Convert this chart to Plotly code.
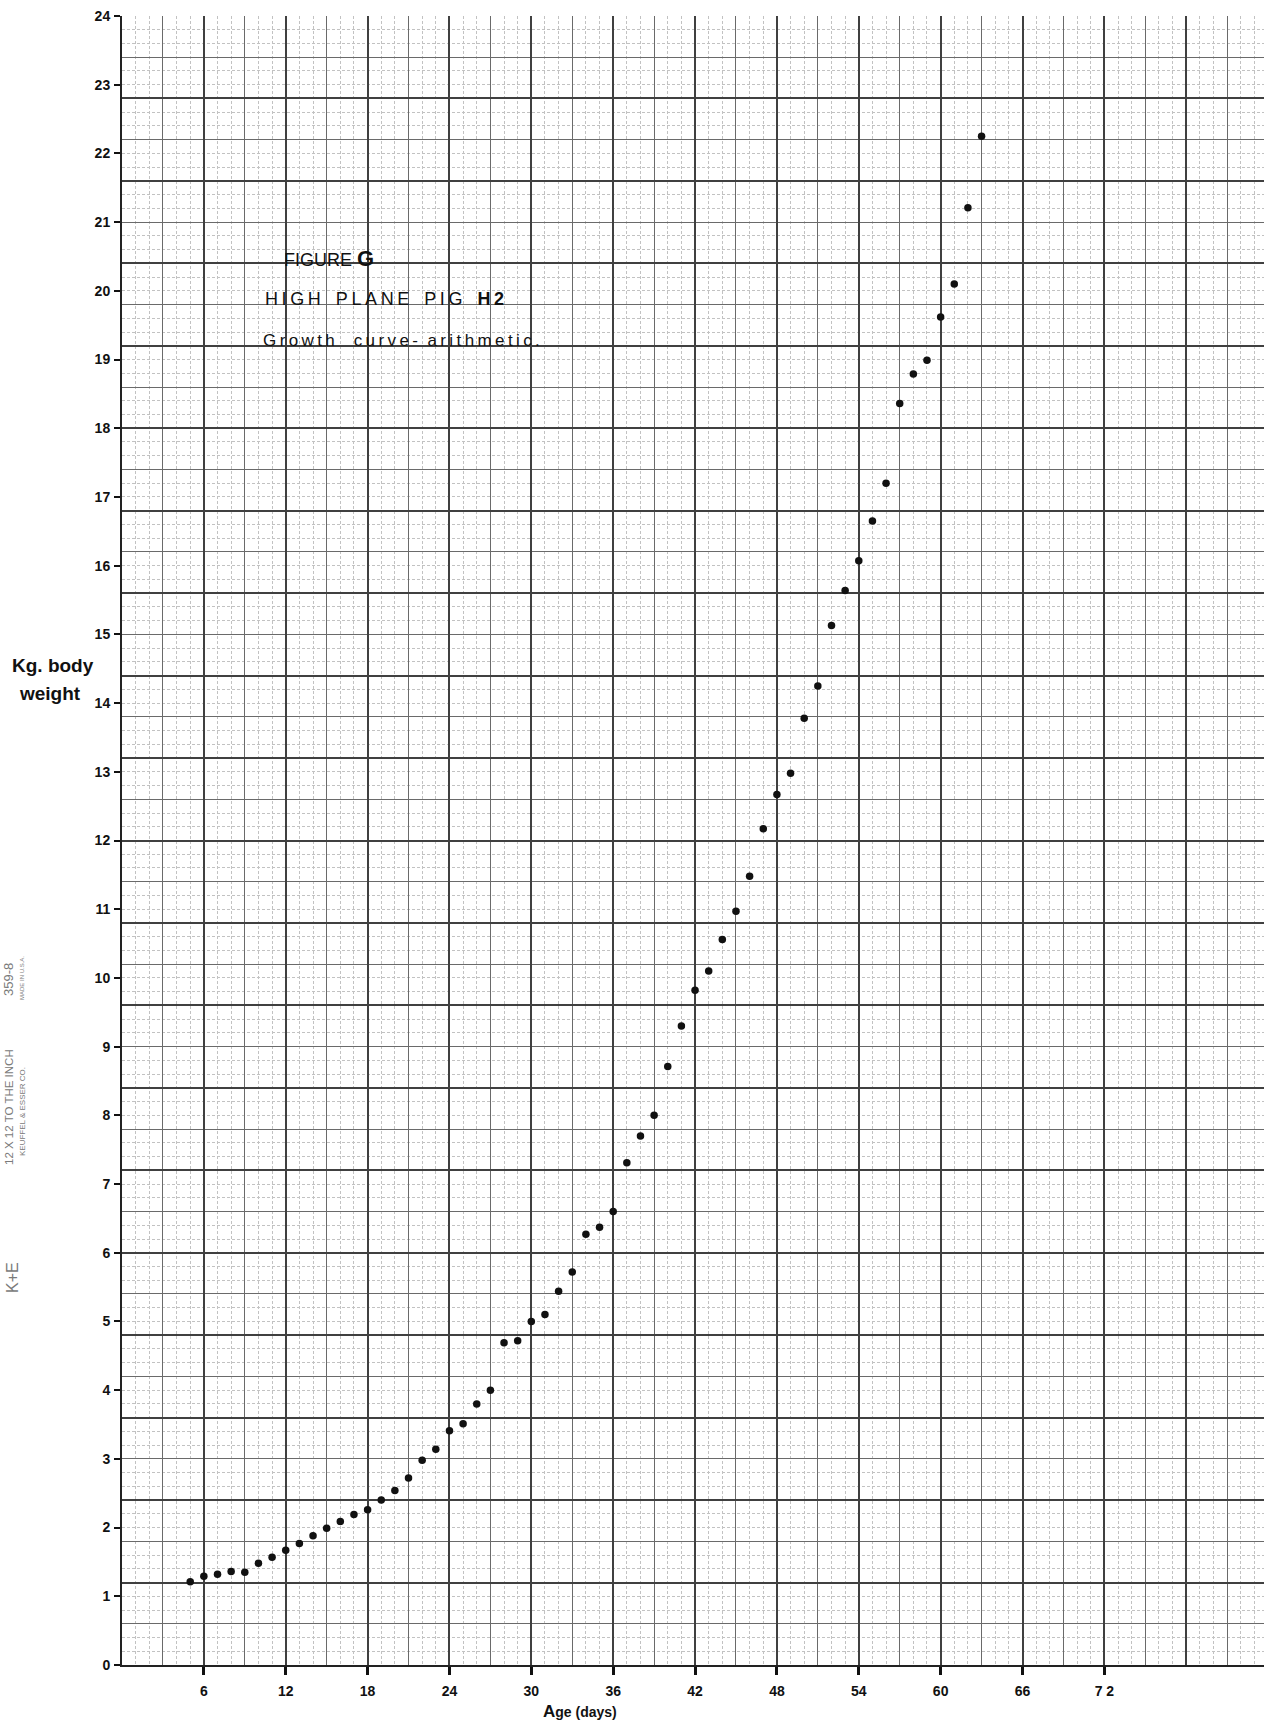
import plotly.graph_objects as go

# Age (days) and body weight (kg)
age_days = list(range(5, 64))
weight_kg = [1.21, 1.29, 1.32, 1.36, 1.35, 1.48, 1.57, 1.67, 1.77, 1.88,
             1.99, 2.09, 2.19, 2.26, 2.40, 2.54, 2.72, 2.98, 3.14, 3.41,
             3.51, 3.80, 4.00, 4.69, 4.72, 5.00, 5.10, 5.44, 5.72, 6.27,
             6.37, 6.60, 7.31, 7.70, 8.00, 8.71, 9.30, 9.82, 10.10, 10.56,
             10.97, 11.48, 12.17, 12.67, 12.98, 13.78, 14.25, 15.13, 15.64, 16.07,
             16.65, 17.20, 18.36, 18.79, 18.99, 19.62, 20.10, 21.21, 22.25]

x_tick_vals = [6, 12, 18, 24, 30, 36, 42, 48, 54, 60, 66, 72]
x_tick_text = ["6", "12", "18", "24", "30", "36", "42", "48", "54", "60", "66", "7 2"]
y_tick_vals = list(range(0, 25))

X_MAX = 83.7
Y_MAX = 24

fig = go.Figure()

# invisible helper traces so overlay grid axes are rendered
for i in (2, 3, 4):
    fig.add_trace(go.Scatter(x=[0], y=[0], xaxis=f"x{i}", yaxis=f"y{i}",
                             mode="markers", marker=dict(opacity=0),
                             showlegend=False, hoverinfo="skip"))

fig.add_trace(go.Scatter(x=age_days, y=weight_kg, mode="markers",
                         marker=dict(color="#111111", size=7.5),
                         showlegend=False, cliponaxis=False))

tick_font = dict(family="Liberation Sans", size=14, color="#111111", weight="bold")

def grid_axis(dtick, color, width, dash, overlay):
    return dict(range=[0, X_MAX] if overlay == "x" else [0, Y_MAX],
                overlaying=overlay, tickmode="linear", tick0=0, dtick=dtick,
                showgrid=True, gridcolor=color, gridwidth=width, griddash=dash,
                showticklabels=False, ticks="", showline=False, zeroline=False,
                fixedrange=True)

layout = dict(
    width=1264, height=1720,
    margin=dict(l=122, r=0, t=16, b=55),
    paper_bgcolor="white", plot_bgcolor="white",
    xaxis=dict(range=[0, X_MAX], tickmode="array", tickvals=x_tick_vals,
               ticktext=x_tick_text, ticks="outside", ticklen=8, tickwidth=2.5,
               tickcolor="#111111", showgrid=False, zeroline=False,
               showline=True, linecolor="#222222", linewidth=2,
               tickfont=tick_font, ticklabelstandoff=4),
    yaxis=dict(range=[0, Y_MAX], tickmode="array", tickvals=y_tick_vals,
               ticks="outside", ticklen=6, tickwidth=2, tickcolor="#111111",
               showgrid=False, zeroline=False, showline=True,
               linecolor="#222222", linewidth=2, tickfont=tick_font,
               ticklabelstandoff=1),
    xaxis2=grid_axis(1, "#c2c2c2", 0.8, "3px,2px", "x"),
    yaxis2=grid_axis(0.2, "#c2c2c2", 0.8, "3px,2px", "y"),
    xaxis3=grid_axis(3, "#6a6a6a", 1.0, "solid", "x"),
    yaxis3=grid_axis(0.6, "#6a6a6a", 1.0, "solid", "y"),
    xaxis4=grid_axis(6, "#404040", 1.7, "solid", "x"),
    yaxis4=grid_axis(1.2, "#404040", 1.7, "solid", "y"),
)
fig.update_layout(**layout)

plot_h = 1720 - 16 - 55
plot_w = 1264 - 122
def px_to_paper(px, py):
    return (px - 122) / plot_w, (1720 - 55 - py) / plot_h

TS = "\u2009"  # thin space used to widen the hand lettering
def spaced(s):
    return TS.join(list(s))

ann_font = dict(family="Liberation Sans", color="#111111")
annotations = [
    dict(x=11.7, y=20.47, xref="x", yref="y", xanchor="left", yanchor="middle",
         text="FIGURE <b><span style='font-size:22px'>G</span></b>",
         font=dict(size=18, **ann_font), showarrow=False),
    dict(x=10.3, y=19.88, xref="x", yref="y", xanchor="left", yanchor="middle",
         text=spaced("HIGH") + "   " + spaced("PLANE") + "   " + spaced("PIG")
              + "   <b>" + spaced("H2") + "</b>",
         font=dict(size=18, **ann_font), showarrow=False),
    dict(x=10.2, y=19.27, xref="x", yref="y", xanchor="left", yanchor="middle",
         text=spaced("Growth") + "    " + spaced("curve-") + "  " + spaced("arithmetic."),
         font=dict(size=17, **ann_font), showarrow=False),
    dict(x=33.6, y=0, xref="x", yref="paper", yshift=-46, showarrow=False,
         text="A<span style='font-size:14px'>ge (days)</span>", yanchor="middle",
         font=dict(size=17, weight=600, **ann_font)),
]

for text, px, py in [("Kg. body", 53, 665), ("weight", 50, 693)]:
    ax_, ay_ = px_to_paper(px, py)
    annotations.append(dict(x=ax_, y=ay_, xref="paper", yref="paper",
                            xanchor="center", yanchor="middle", showarrow=False,
                            text=text, font=dict(size=19, weight=600, **ann_font)))

side_font = dict(family="Liberation Sans", color="#7a7a7a")
for text, px, py, size in [
    ("12 X 12 TO THE INCH", 9, 1107, 11.5),
    ("KEUFFEL &amp; ESSER CO.", 22, 1112, 8),
    ("359-8", 9, 980, 13),
    ("MADE IN U.S.A.", 22, 978, 6),
    ("K+E", 12, 1278, 16),
]:
    ax_, ay_ = px_to_paper(px, py)
    annotations.append(dict(x=ax_, y=ay_, xref="paper", yref="paper",
                            xanchor="center", yanchor="middle",
                            showarrow=False, text=text, textangle=-90,
                            font=dict(size=size, **side_font)))

fig.update_layout(annotations=annotations)

fig.write_html("out.html", post_script="document.body.style.margin='0';")
